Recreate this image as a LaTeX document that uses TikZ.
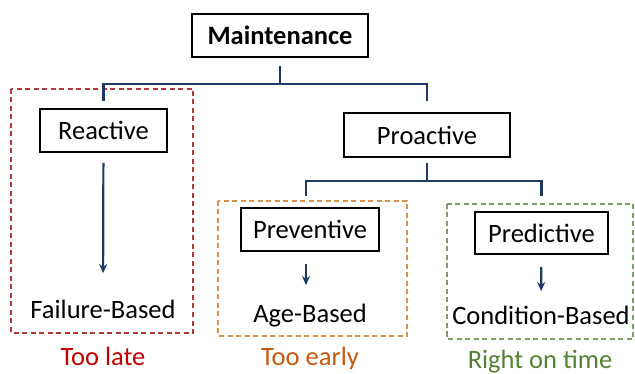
\documentclass[tikz,border=0pt]{standalone}
\usepackage{fontspec}
\setmainfont{Carlito}
\usetikzlibrary{positioning,arrows.meta}
\definecolor{linkblue}{HTML}{1F3864}
\definecolor{latered}{HTML}{C00000}
\definecolor{lateframe}{HTML}{B0393C}
\definecolor{earlyorange}{HTML}{C55A11}
\definecolor{earlyframe}{HTML}{D9914F}
\definecolor{timegreen}{HTML}{548235}
\definecolor{timeframe}{HTML}{7F9F6A}

\begin{document}
\begin{tikzpicture}[x=1pt, y=-1pt, >={Stealth[length=9pt,width=8pt]},
  font=\fontsize{26.5}{30}\selectfont,
  box/.style={draw, line width=1.6pt, minimum height=43pt, inner sep=0pt},
  link/.style={draw=linkblue, line width=2.2pt},
  frame/.style={line width=1.4pt, dash pattern=on 5pt off 3.5pt}]
\useasboundingbox (0,0) rectangle (635,374);

% dashed groups
\draw [frame, draw=lateframe] (11,89) rectangle (193,333);
\draw [frame, draw=earlyframe] (218,201) rectangle (407,336);
\draw [frame, draw=timeframe] (447,204) rectangle (633,339);

% boxes
\node [box, minimum width=176pt, font=\fontsize{26.5}{30}\selectfont\bfseries] (maint) at (280,35.5) {Maintenance};
\node [box, minimum width=127pt] (reactive) at (103.5,130.5) {Reactive};
\node [box, minimum width=166pt, minimum height=44pt] (proactive) at (427,135) {Proactive};
\node [box, minimum width=138pt] (preventive) at (310,229.5) {Preventive};
\node [box, minimum width=133pt, minimum height=42pt] (predictive) at (541.5,233) {Predictive};

% outcomes
\node [anchor=base] (failure) at (103,319) {Failure-Based};
\node [anchor=base] (age) at (310,323) {Age-Based};
\node [anchor=base] (condition) at (541,325) {Condition-Based};

\foreach \n/\t/\c/\x/\y in {late/Too late/latered/103/365,
    early/Too early/earlyorange/310/365, ontime/Right on time/timegreen/540/368}
  \node [anchor=base, text=\c] (\n) at (\x,\y) {\t};

% tree
\draw [link, shorten <=8pt, shorten >=7pt] (maint.south) -- ++(0,26) -| (reactive.north);
\draw [link, shorten <=8pt, shorten >=11pt] (maint.south) -- ++(0,26) -| (proactive.north);
\draw [link, shorten <=5pt, shorten >=11pt] (proactive.south) -- ++(0,23) -| ([xshift=-4pt]preventive.north);
\draw [link, shorten <=5pt, shorten >=15pt] (proactive.south) -- ++(0,23) -| (predictive.north);

\draw [link, ->, shorten <=10pt, shorten >=24pt] (reactive) -- (failure);
\draw [link, ->, shorten <=12pt, shorten >=16pt] ([xshift=-4pt]preventive.south) -- ([xshift=-4pt]age.north);
\draw [link, ->, shorten <=12pt, shorten >=12pt] (predictive) -- (condition);

\end{tikzpicture}
\end{document}
